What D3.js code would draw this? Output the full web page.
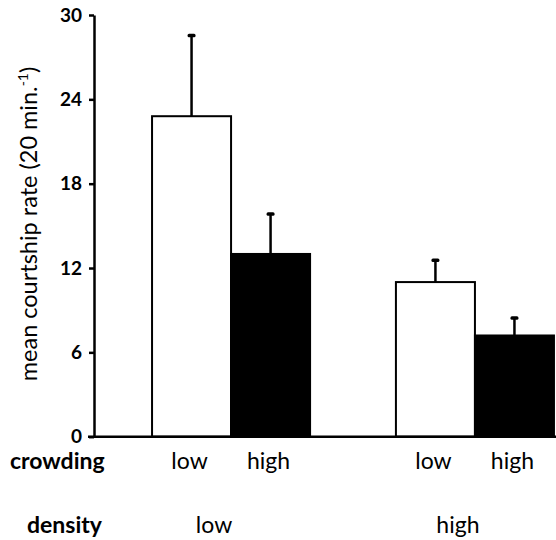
<!DOCTYPE html>
<html>
<head>
<meta charset="utf-8">
<script src="https://cdn.jsdelivr.net/npm/d3@7"></script>
<style>
  body { margin: 0; background: #fff; }
  svg { display: block; font-family: Lato, "Open Sans", sans-serif; }
</style>
</head>
<body>
<div id="chart"></div>
<script>
// data
const density = ["low", "high"];
const crowding = ["low", "high"];
const meanRate = [22.8, 13.0, 11.0, 7.2];   // density low: crowding low, high | density high: crowding low, high
const errRate = [5.8, 2.9, 1.6, 1.3];
const yTicks = [0, 6, 12, 18, 24, 30];

const width = 556, height = 540;

const rows = [];
density.forEach((dens, i) => {
    crowding.forEach((crowd, j) => {
        const k = i * crowding.length + j;
        rows.push({ density: dens, crowding: crowd, mean: meanRate[k], err: errRate[k] });
    });
});

const svg = d3.select('#chart').append('svg')
    .attr('width', width)
    .attr('height', height);

// scales
const y = d3.scaleLinear()
    .domain([0, 30])
    .range([436.7, 15]);

const x0 = d3.scaleBand()
    .domain(density)
    .range([94, 612])
    .paddingInner(0.352)
    .paddingOuter(0.238);

const x1 = d3.scaleBand()
    .domain(crowding)
    .range([0, x0.bandwidth()]);

const fill = d3.scaleOrdinal().domain(crowding).range(['#fff', '#000']);

// bars
const bars = svg.append('g');
bars.selectAll('rect')
    .data(rows)
    .enter().append('rect')
    .attr('x', d => x0(d.density) + x1(d.crowding))
    .attr('y', d => y(d.mean))
    .attr('width', x1.bandwidth())
    .attr('height', d => y(0) - y(d.mean))
    .attr('fill', d => fill(d.crowding))
    .attr('stroke', '#000')
    .attr('stroke-width', 2);

// error bars (upper only)
const errs = svg.append('g');
errs.selectAll('line')
    .data(rows)
    .enter().append('line')
    .attr('x1', d => x0(d.density) + x1(d.crowding) + x1.bandwidth() / 2)
    .attr('x2', d => x0(d.density) + x1(d.crowding) + x1.bandwidth() / 2)
    .attr('y1', d => y(d.mean))
    .attr('y2', d => y(d.mean + d.err))
    .attr('stroke', '#000')
    .attr('stroke-width', 2.5);
errs.selectAll('rect')
    .data(rows)
    .enter().append('rect')
    .attr('x', d => x0(d.density) + x1(d.crowding) + x1.bandwidth() / 2 - 4)
    .attr('y', d => y(d.mean + d.err) - 1)
    .attr('width', 8)
    .attr('height', 3.5)
    .attr('rx', 1.5)
    .attr('fill', '#000');

// y axis
const yAxis = svg.append('g')
    .attr('transform', 'translate(94,0)')
    .call(d3.axisLeft(y).tickValues(yTicks).tickSize(5).tickSizeOuter(0).tickPadding(7));
yAxis.select('.domain').attr('stroke-width', 2.5);
yAxis.selectAll('.tick line').attr('stroke-width', 2.5);
yAxis.selectAll('.tick text')
    .attr('font-family', 'Lato, sans-serif')
    .attr('font-size', 19)
    .attr('font-weight', 'bold')
    .attr('fill', '#000');

// baseline
svg.append('line')
    .attr('x1', 88).attr('x2', width)
    .attr('y1', y(0)).attr('y2', y(0))
    .attr('stroke', '#000')
    .attr('stroke-width', 2.5);

// y title
const title = svg.append('text')
    .attr('transform', `translate(37, 224) rotate(-90)`)
    .attr('text-anchor', 'middle')
    .attr('font-size', 23.5)
    .attr('fill', '#000');
title.append('tspan').text('mean courtship rate (20 min.');
title.append('tspan').attr('font-size', 14).attr('dy', -9).text('-1');
title.append('tspan').attr('dy', 9).text(')');

// category labels
svg.append('text')
    .attr('x', 10).attr('y', 469)
    .attr('font-size', 23).attr('font-weight', 'bold')
    .text('crowding');
svg.append('text')
    .attr('x', 27).attr('y', 533)
    .attr('font-size', 23).attr('font-weight', 'bold')
    .text('density');

svg.append('g').selectAll('text')
    .data(rows)
    .enter().append('text')
    .attr('x', d => x0(d.density) + x1(d.crowding) + x1.bandwidth() / 2 - 2)
    .attr('y', 469)
    .attr('text-anchor', 'middle')
    .attr('font-size', 23)
    .text(d => d.crowding);

svg.append('g').selectAll('text')
    .data(density)
    .enter().append('text')
    .attr('x', d => x0(d) + x0.bandwidth() / 2 - 17)
    .attr('y', 533)
    .attr('text-anchor', 'middle')
    .attr('font-size', 23)
    .text(d => d);
</script>
</body>
</html>
